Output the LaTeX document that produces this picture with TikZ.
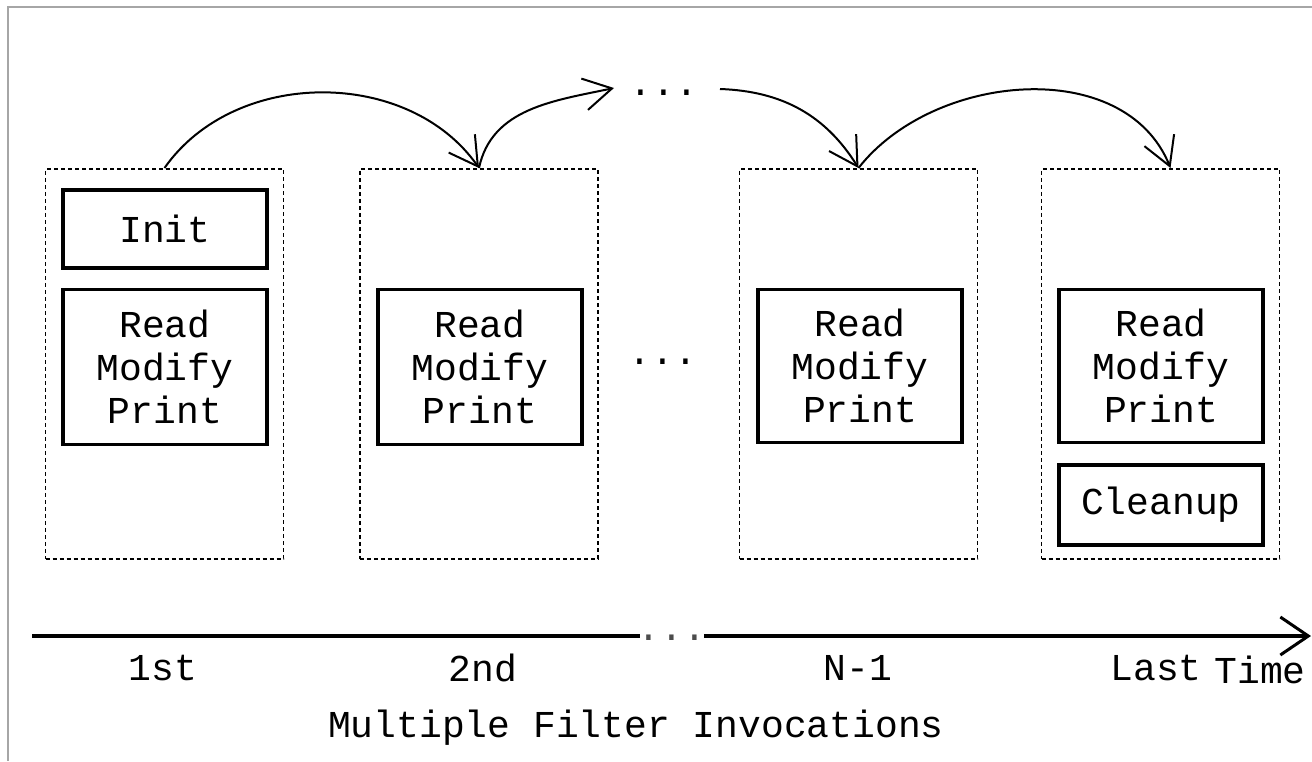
\documentclass[tikz,border=0pt]{standalone}
\usepackage{fontspec}
\newfontfamily\courfont{Liberation Mono}
\usetikzlibrary{arrows.meta,positioning}

\begin{document}
\begin{tikzpicture}[x=1pt,y=-1pt,
        every node/.style={inner sep=0pt,font=\courfont\fontsize{38}{43}\selectfont,align=center},
        run/.style={draw=black,line width=1.8pt,dash pattern=on 4pt off 3pt,minimum width=238pt,minimum height=390pt,anchor=north},
        stage/.style={draw=black,line width=3.8pt,minimum width=204pt},
        hop/.style={line width=2pt,-{Straight Barb[length=28pt,width=32pt,line width=2pt]}}]
    \useasboundingbox (0,0) rectangle (1312,761);
    % outer frame
    \draw [gray!70,line width=2pt] (8,761) -- (8,7) -- (1312,7);
    % one box per call
    \node [run] (f1) at (164.5,168) {};
    \node [run] (f2) at (479,168) {};
    \node [run] (f3) at (858.5,168) {};
    \node [run] (f4) at (1160.5,168) {};
    \node [stage,minimum height=78pt] (init) at (165,229) {Init};
    \node [stage,minimum height=155pt] (rmp1) at (165,367) {Read\\Modify\\Print};
    \node [stage,minimum height=155pt] (rmp2) at (480,367) {Read\\Modify\\Print};
    \node [stage,minimum height=153pt] (rmp3) at (860,366) {Read\\Modify\\Print};
    \node [stage,minimum height=153pt] (rmp4) at (1161,366) {Read\\Modify\\Print};
    \node [stage,minimum height=80pt] (clean) at (1161,505) {Cleanup};
    \node (dotsmid) at (663,362) {...};
    \node [anchor=base] (dotstop) at (664,95) {...};
    \coordinate (topin) at (614,88);
    \coordinate (topout) at (720,89);
    % hops between calls
    \draw [hop] (f1.north) to[out=55,in=125] (f2.north);
    \draw [hop] (f2.north) to[out=78,in=192] (topin);
    \draw [hop] (topout) to[out=-2,in=122] (f3.north);
    \draw [hop] (f3.north) to[out=52,in=112] ([xshift=10pt]f4.north);
    % time axis
    \coordinate (ax0) at (32,636);
    \coordinate (axa) at (640,636);
    \coordinate (axb) at (704,636);
    \coordinate (ax1) at (1311,636);
    \node [anchor=base,text=black!70] (axdots) at (672,640) {...};
    \draw [line width=4pt] (ax0) -- (axa);
    \draw [line width=3.2pt,-{Straight Barb[length=28pt,width=38pt,line width=3pt]}] (axb) -- (ax1);
    \node (l1) at (163,668) {1st};
    \node (l2) at (483,668) {2nd};
    \node (l3) at (858,668) {N-1};
    \node (l4) at (1156,668) {Last};
    \node (l5) at (1260,670) {Time};
    \node (cap) at (636,728) {Multiple Filter Invocations};
\end{tikzpicture}
\end{document}
